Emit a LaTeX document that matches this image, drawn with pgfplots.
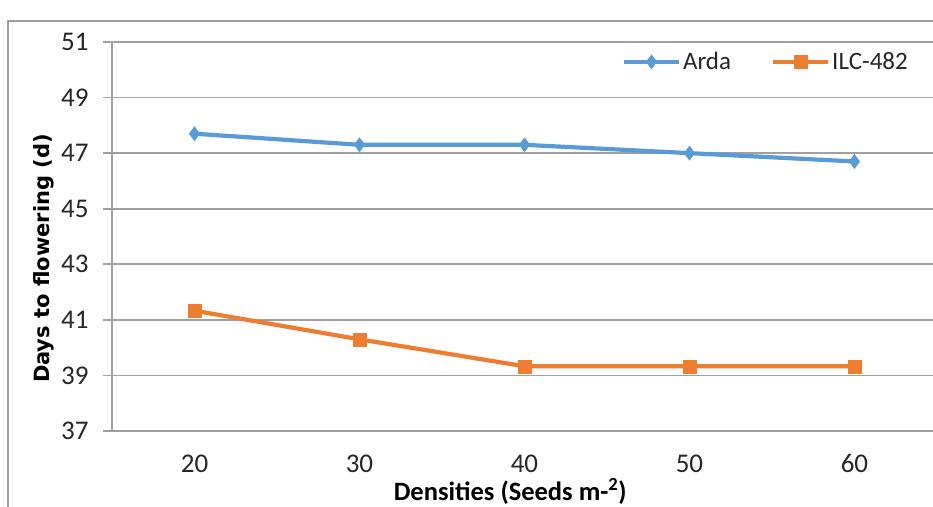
\documentclass[border=0pt]{standalone}
\usepackage{fontspec}
\setmainfont{Carlito}
\newfontfamily\dejavu{DejaVu Sans}
\usepackage{pgfplots}
\pgfplotsset{compat=1.18}
\definecolor{arda}{HTML}{5B9BD5}
\definecolor{ilc}{HTML}{ED7D31}
\definecolor{gridc}{HTML}{A0A0A0}
\begin{document}
\begin{tikzpicture}
\useasboundingbox (-112pt,-75pt) rectangle (821pt,431pt);
\draw[gridc, line width=1.2pt] (-104pt,-76pt) -- (-104pt,410pt) -- (822pt,410pt);
\begin{axis}[
  scale only axis,
  width=821pt, height=389pt,
  xmin=15, xmax=64.76,
  ymin=37, ymax=51,
  xtick={20,30,40,50,60},
  ytick={37,39,...,51},
  axis x line=bottom, axis y line=left,
  axis line style={-, gridc, line width=1.6pt},
  ymajorgrids,
  grid style={gridc, line width=1.6pt},
  x tick style={draw=none},
  y tick style={gridc, line width=1.6pt},
  tick align=outside,
  major tick length=9pt,
  /pgf/number format/assume math mode=true,
  tick label style={font=\fontsize{27}{31}\selectfont, text=black!85},
  xticklabel style={anchor=base, yshift=-32pt},
  yticklabel style={anchor=east, xshift=-11pt, yshift=0pt},
  xlabel={\textbf{Densities (Seeds m-\textsuperscript{2})}},
  xlabel style={font=\fontsize{26.5}{30}\selectfont, at={(axis description cs:0.485,0)}, anchor=base, yshift=-69pt},
  ylabel={Days to flowering (d)},
  ylabel style={font=\dejavu\bfseries\fontsize{21}{25}\selectfont, at={(axis description cs:0,0.5)}, anchor=center, xshift=-22pt, yshift=68pt},
  legend columns=2,
  legend style={draw=none, fill=none, at={(axis description cs:0.9756,0.949)}, anchor=east,
    font=\fontsize{25}{30}\selectfont, text=black!85,
    /tikz/every even column/.append style={column sep=38pt}},
  legend image code/.code={
    \draw[#1, mark repeat=2, mark phase=2] plot coordinates {(0pt,0pt) (27.5pt,0pt) (55pt,0pt)};
  },
  clip=false,
]
\addplot[arda, line width=4.2pt, mark=diamond*, mark size=7pt, mark options={solid, line width=0.5pt}]
  coordinates {(20,47.7) (30,47.3) (40,47.3) (50,47.0) (60,46.7)};
\addlegendentry{Arda}
\addplot[ilc, line width=4.2pt, mark=square*, mark size=6.5pt, mark options={solid, line width=0.5pt}]
  coordinates {(20,41.33) (30,40.3) (40,39.33) (50,39.33) (60,39.33)};
\addlegendentry{ILC-482}
\end{axis}
\end{tikzpicture}
\end{document}
